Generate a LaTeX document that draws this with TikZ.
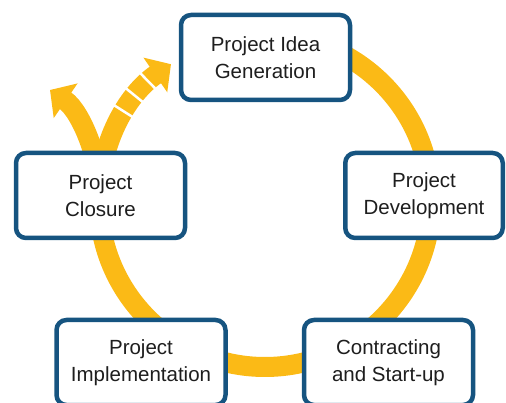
\documentclass[tikz,border=0pt]{standalone}
\usepackage{fontspec}
\setmainfont{Liberation Sans}
\usetikzlibrary{arrows.meta}
\definecolor{ringyellow}{RGB}{251,186,22}
\definecolor{boxblue}{RGB}{22,84,128}
\definecolor{boxtext}{RGB}{30,30,30}
\tikzset{
  stage/.style={draw=boxblue, line width=4.5pt, fill=white, rounded corners=10pt,
    minimum width=169pt, minimum height=85pt, align=center, text=boxtext,
    font=\fontsize{20.5}{26.5}\selectfont},
  ring/.style={draw=ringyellow, line width=20pt,
    -{Triangle[length=19pt,width=41pt]}},
  gap/.style={draw=white, line width=2.5pt}
}
\begin{document}
\begin{tikzpicture}[x=1pt,y=1pt]
      \useasboundingbox (0,0) rectangle (506,-403);
      \coordinate (c) at (265,-201);
      \path (c) ++(176:166) coordinate (fork);
      \coordinate (exit) at (50,-90);
      % cycle and the way out
      \draw[ring] (c) ++(95:166) arc[start angle=95, end angle=-235.5, radius=166];
      \draw[ring] (fork) .. controls (100,-162) and (82,-112) .. (exit);
      \foreach \a in {134.3,141,147.6}
        \draw[gap] (c) ++(\a:152) -- ++(\a:28);
      % stages
      \draw
        (265.5,-57.5) node[stage] (idea) {Project Idea\\Generation}
        (424,-195.5) node[stage, minimum width=157.5pt] (dev) {Project\\Development}
        (388.5,-362.5) node[stage] (start) {Contracting\\and Start-up}
        (141,-362.5) node[stage] (impl) {Project\\Implementation}
        (100.5,-195.5) node[stage] (close) {Project\\Closure};
    \end{tikzpicture}
\end{document}
